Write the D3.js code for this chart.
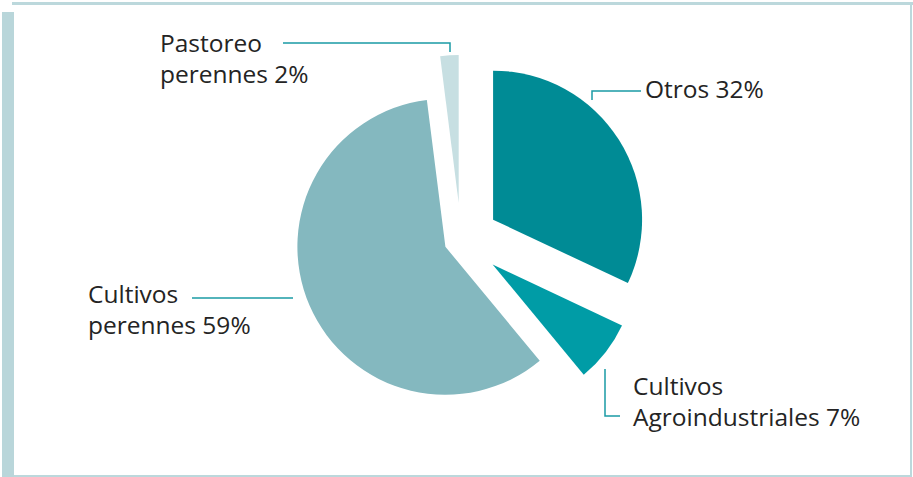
<!DOCTYPE html>
<html>
<head>
<meta charset="utf-8">
<script src="https://cdn.jsdelivr.net/npm/d3@7"></script>
<style>
  html, body { margin: 0; padding: 0; background: #fff; }
  svg { display: block; }
</style>
</head>
<body>
<svg id="chart" width="913" height="477"></svg>
<script>
// ---- data ----
const categories = ["Otros", "Cultivos Agroindustriales", "Cultivos perennes", "Pastoreo perennes"];
const values = [32, 7, 59, 2];
const labelLines = [
  ["Otros 32%"],
  ["Cultivos", "Agroindustriales 7%"],
  ["Cultivos", "perennes 59%"],
  ["Pastoreo", "perennes 2%"]
];

// ---- style / layout ----
const colors = ["#008b95", "#009ca6", "#84b8bf", "#c7dfe2"];
const explode = [38, 40, 17, 37];
const radii = [149, 143, 148, 148];
const center = { x: 461, y: 240 };
const labelPos = [
  { x: 645, y: 98 },
  { x: 633, y: 395 },
  { x: 88, y: 303 },
  { x: 160, y: 52 }
];
const lineHeight = 31;
const leaders = [
  [[641, 91], [592, 91], [592, 100]],
  [[605, 369], [605, 416], [620, 416]],
  [[192, 298], [293, 298]],
  [[283, 43], [450, 43], [450, 52]]
];

const svg = d3.select("#chart");

// frame
const frame = svg.append("g");
frame.append("rect").attr("x", 2).attr("y", 12).attr("width", 12).attr("height", 465).attr("fill", "#b9d6da");
frame.append("rect").attr("x", 12).attr("y", 2).attr("width", 901).attr("height", 3).attr("fill", "#bcd8dc");
frame.append("rect").attr("x", 910).attr("y", 2).attr("width", 2).attr("height", 475).attr("fill", "#bcd8dc");
frame.append("rect").attr("x", 14).attr("y", 475).attr("width", 898).attr("height", 2).attr("fill", "#bcd8dc");

// pie
const pie = d3.pie().sort(null).value(d => d).startAngle(0).endAngle(2 * Math.PI);
const arcs = pie(values);

const g = svg.append("g").attr("transform", `translate(${center.x},${center.y})`);
g.selectAll("path.slice")
  .data(arcs)
  .join("path")
  .attr("class", "slice")
  .attr("fill", (d, i) => colors[i])
  .attr("transform", (d, i) => {
    const mid = (d.startAngle + d.endAngle) / 2;
    return `translate(${explode[i] * Math.sin(mid)},${-explode[i] * Math.cos(mid)})`;
  })
  .attr("d", (d, i) => d3.arc().innerRadius(0).outerRadius(radii[i])(d));

// leader lines
svg.append("g").selectAll("path")
  .data(leaders)
  .join("path")
  .attr("d", d => d3.line()(d))
  .attr("fill", "none")
  .attr("stroke", "#1a9ba5")
  .attr("stroke-width", 1.5);

// labels
const lbl = svg.append("g")
  .attr("font-family", "'Open Sans', sans-serif")
  .attr("font-size", 24.5)
  .attr("fill", "#242424");
labelLines.forEach((lines, i) => {
  const t = lbl.append("text").attr("x", labelPos[i].x).attr("y", labelPos[i].y);
  lines.forEach((s, j) => {
    t.append("tspan").attr("x", labelPos[i].x).attr("y", labelPos[i].y + j * lineHeight).text(s);
  });
});
</script>
</body>
</html>
